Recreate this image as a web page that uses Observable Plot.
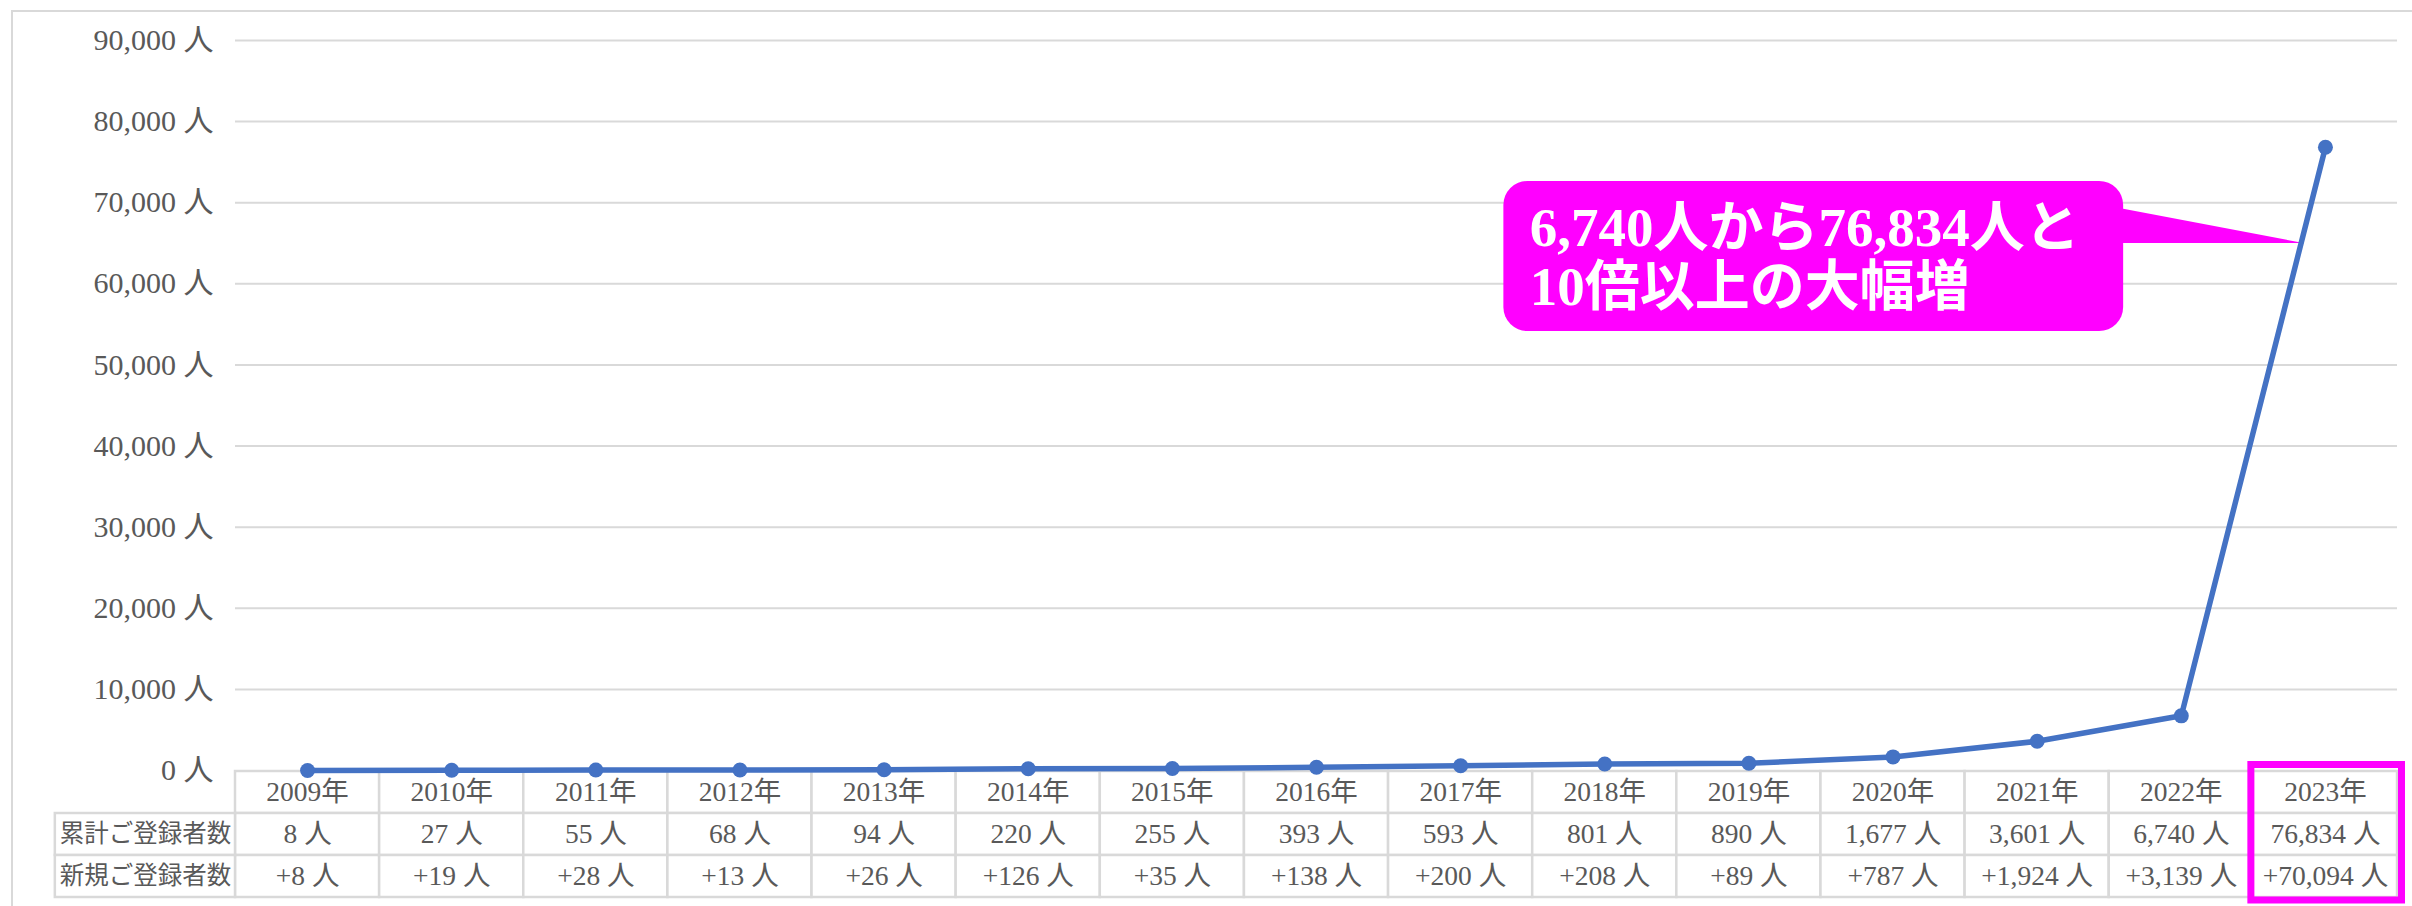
<!DOCTYPE html>
<html>
<head>
<meta charset="utf-8">
<script src="https://cdn.jsdelivr.net/npm/d3@7"></script>
<script src="https://cdn.jsdelivr.net/npm/@observablehq/plot@0.6"></script>
<style>
  html, body { margin: 0; padding: 0; background: #ffffff; }
  #wrap { position: relative; width: 2412px; height: 906px; overflow: hidden; background: #ffffff; }
  #frame { position: absolute; left: 11px; top: 10px; width: 2440px; height: 940px; border: 2px solid #d9d9d9; box-sizing: border-box; }
  #table { position: absolute; left: 0; top: 750px; }
  #chart { position: absolute; left: 0; top: 0; }
</style>
</head>
<body>
<div id="wrap">
  <div id="frame"></div>
  <div id="table"></div>
  <div id="chart"></div>
</div>
<script>
// ---- data ----
const years = [2009, 2010, 2011, 2012, 2013, 2014, 2015, 2016, 2017, 2018, 2019, 2020, 2021, 2022, 2023];
const cumulative = [8, 27, 55, 68, 94, 220, 255, 393, 593, 801, 890, 1677, 3601, 6740, 76834];
const newRegistrations = [8, 19, 28, 13, 26, 126, 35, 138, 200, 208, 89, 787, 1924, 3139, 70094];
const rowLabels = ["累計ご登録者数", "新規ご登録者数"];
const yTicks = [0, 10000, 20000, 30000, 40000, 50000, 60000, 70000, 80000, 90000];
const highlightYear = 2023;
const calloutLines = ["6,740人から76,834人と", "10倍以上の大幅増"];
// callout placement in data units (year, persons)
const calloutBox = {x1: 2017.3, x2: 2021.6, y1: 54120, y2: 72620};
const calloutTextX = 2017.48;
const calloutPointer = [
  {x: 2021.5, y1: 64970, y2: 69530},
  {x: 2022.85, y1: 64970, y2: 64970}
];

// ---- styles ----
const FONT = "'Liberation Serif', 'Noto Sans CJK JP', serif";
const TEXT = "#595959";
const GRID = "#d9d9d9";
const BLUE = "#4472C4";
const MAGENTA = "#FF00FF";
const W = 2412;
const ML = 235, MR = 15;
const xDomain = [years[0] - 0.5, years[years.length - 1] + 0.5];
const labelSpan = 1.25; // width of the label column in column units

const fmt = d3.format(",");
const rowKeys = ["year", ...rowLabels];

// ---- main chart ----
const series = years.map((year, i) => ({year, value: cumulative[i]}));

const chart = Plot.plot({
  width: W,
  height: 906,
  marginTop: 40,
  marginBottom: 136,
  marginLeft: ML,
  marginRight: MR,
  style: {background: "transparent", overflow: "visible", fontFamily: FONT, fontSize: "30px", color: TEXT},
  x: {domain: xDomain, axis: null},
  y: {domain: [0, 90000], ticks: yTicks, tickFormat: d => fmt(d) + " 人", tickSize: 0, tickPadding: 22, label: null},
  marks: [
    Plot.ruleY(yTicks.filter(d => d > 0), {stroke: GRID, strokeWidth: 2}),
    Plot.rect([calloutBox], {x1: "x1", x2: "x2", y1: "y1", y2: "y2", fill: MAGENTA, rx: 24}),
    Plot.areaY(calloutPointer, {x: "x", y1: "y1", y2: "y2", fill: MAGENTA}),
    Plot.text([calloutLines.join("\n")], {
      x: calloutTextX,
      y: (calloutBox.y1 + calloutBox.y2) / 2,
      text: d => d,
      fill: "#ffffff",
      fontSize: 55,
      fontWeight: "bold",
      lineHeight: 1.08,
      textAnchor: "start"
    }),
    Plot.line(series, {x: "year", y: "value", stroke: BLUE, strokeWidth: 5.5}),
    Plot.dot(series, {x: "year", y: "value", r: 7.5, fill: BLUE, stroke: "none"})
  ]
});
document.getElementById("chart").appendChild(chart);

// ---- data table ----
const cells = [];
years.forEach((year, i) => {
  cells.push({year, row: "year", text: `${year}年`});
  cells.push({year, row: rowLabels[0], text: `${fmt(cumulative[i])} 人`});
  cells.push({year, row: rowLabels[1], text: `+${fmt(newRegistrations[i])} 人`});
});
const labelCells = rowLabels.map(row => ({row, text: row}));
const labelX1 = xDomain[0] - labelSpan, labelX2 = xDomain[0];

const table = Plot.plot({
  width: W,
  height: 156,
  marginTop: 20,
  marginBottom: 9,
  marginLeft: ML,
  marginRight: MR,
  style: {background: "transparent", overflow: "visible", fontFamily: FONT, color: TEXT},
  x: {domain: xDomain, axis: null},
  y: {domain: rowKeys, padding: 0, axis: null},
  marks: [
    Plot.barX(cells, {x1: d => d.year - 0.5, x2: d => d.year + 0.5, y: "row", fill: "#ffffff", stroke: GRID, strokeWidth: 2.5}),
    Plot.barX(labelCells, {x1: labelX1, x2: labelX2, y: "row", fill: "#ffffff", stroke: GRID, strokeWidth: 2.5}),
    Plot.text(cells, {x: "year", y: "row", text: "text", fill: TEXT, fontSize: 27.5}),
    Plot.text(labelCells, {x: (labelX1 + labelX2) / 2, y: "row", text: "text", fill: TEXT, fontSize: 24.5}),
    Plot.barX([highlightYear], {x1: d => d - 0.5, x2: d => d + 0.5, fill: "none", stroke: MAGENTA, strokeWidth: 7,
      insetLeft: -2, insetRight: -4.5, insetTop: -5.5, insetBottom: -3})
  ]
});
document.getElementById("table").appendChild(table);
</script>
</body>
</html>
